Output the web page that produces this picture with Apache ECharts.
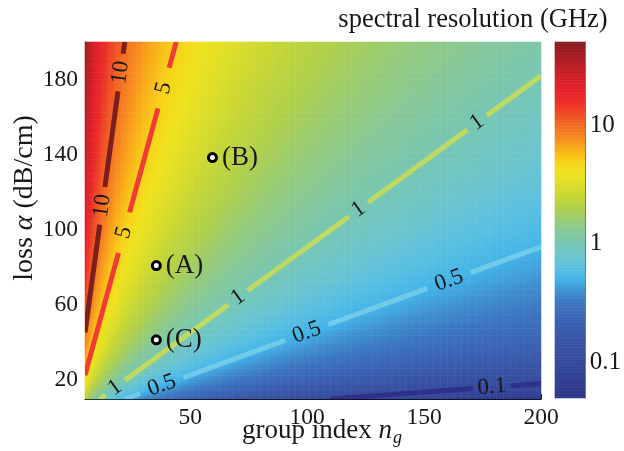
<!DOCTYPE html>
<html><head><meta charset="utf-8">
<script src="https://cdn.jsdelivr.net/npm/echarts@6/dist/echarts.min.js"></script>
<style>html,body{margin:0;padding:0;background:#fff}#c{width:624px;height:451px}</style>
</head><body><div id="c"></div>
<script>
// ---------- data ----------
const ngRange = [5, 200];                 // group index n_g
const lossRange = [10, 200];              // loss alpha (dB/cm)
const xTickValues = [50, 100, 150, 200];
const yTickValues = [20, 40, 60, 80, 100, 120, 140, 160, 180, 200];
const yLabelValues = [20, 60, 100, 140, 180];
const cbRange = [0.05, 50];               // colorbar range (GHz, log)
const cbTickValues = [0.1, 0.316, 1, 3.16, 10, 31.6];
const cbLabelValues = [0.1, 1, 10];
const resK = 1.1;
// sampling of the field
const ngStep = 1, lossStep = 1.25;
// contour lines: level, end points [n_g, loss], label centres [n_g, loss]
const contourLevels = [10, 5, 1, 0.5, 0.1];
const contourEnds = [
  [[5, 45.5], [22, 200]],
  [[5, 22.7], [44, 200]],
  [[11.2, 10], [200, 182]],
  [[22, 10], [200, 91]],
  [[110, 10], [200, 18.3]]
];
const contourLabelPts = [
  [[18.7, 184], [11.4, 113]],
  [[37, 176], [20.4, 99]],
  [[17, 17.5], [70, 64.8], [121.2, 112.2], [172.5, 157.4]],
  [[37, 20.1], [99.4, 46.7], [161, 71.7]],
  [[178.9, 17.5]]
];
const contourLabelText = ['10', '5', '1', '0.5', '0.1'];
// marked points
const pointNames = ['(A)', '(B)', '(C)'];
const pointNg = [35.5, 59.5, 35.5];
const pointLoss = [81, 138.5, 41.5];

// ---------- styles ----------
const SERIF = '"Liberation Serif", "Times New Roman", serif';
const TXT = '#1a1718';
const contourColors = ['#761a1d', '#ef3535', '#c8db58', '#78cfe9', '#2f2f88'];
const contourOpacity = [0.95, 0.95, 0.9, 0.85, 0.95];
const contourGapPx = [38, 42, 24, 46, 38];
const cmap = ['#2b3486','#2f3c90','#334598','#35499c','#374fa1','#3955a6','#3a5daf','#3b68b7','#3c75c0','#3f8fd0',
  '#43b4e8','#5ac0e0','#6cc5cc','#76c6b4','#86c89a','#98cb74','#b0d04a','#c6d636','#dcde28','#efe21d',
  '#f8d018','#f9ad18','#f6891f','#f26a22','#ee4b25','#ea2d29','#e5212a','#d21f28','#bb1e26','#a11c22','#871b1f'];

// ---------- build field ----------
const ngCenters = [], lossCenters = [];
for (let x = ngRange[0] + ngStep / 2; x < ngRange[1]; x += ngStep) ngCenters.push(x);
for (let y = lossRange[0] + lossStep / 2; y < lossRange[1]; y += lossStep) lossCenters.push(y);
const field = [];
ngCenters.forEach((ng, i) => lossCenters.forEach((a, j) => {
  field.push([i, j, Math.log10(resK * a / ng)]);
}));
const lmin = Math.log10(cbRange[0]), lmax = Math.log10(cbRange[1]);
const cbN = 240, cbCenters = [], cbData = [];
for (let j = 0; j < cbN; j++) {
  const v = lmin + (j + 0.5) * (lmax - lmin) / cbN;
  cbCenters.push(v.toFixed(4));
  cbData.push([0, j, v]);
}

function renderContour(params, api) {
  const k = api.value(2);
  const e = contourEnds[k];
  const p0 = api.coord(e[0]), p1 = api.coord(e[1]);
  const dx = p1[0] - p0[0], dy = p1[1] - p0[1];
  const L = Math.hypot(dx, dy), ux = dx / L, uy = dy / L;
  const rot = Math.atan2(-dy, dx);
  const g = contourGapPx[k];
  const ts = contourLabelPts[k].map(pt => {
    const q = api.coord(pt);
    return (q[0] - p0[0]) * ux + (q[1] - p0[1]) * uy;
  }).sort((a, b) => a - b);
  const children = [];
  let s = 0;
  const pushSeg = (a, b) => {
    if (b - a < 1) return;
    children.push({type: 'line', shape: {x1: p0[0] + ux * a, y1: p0[1] + uy * a, x2: p0[0] + ux * b, y2: p0[1] + uy * b},
      style: {stroke: contourColors[k], lineWidth: 5, lineCap: 'butt', opacity: contourOpacity[k]}});
  };
  ts.forEach(t => {
    pushSeg(s, Math.max(s, t - g / 2));
    s = Math.max(s, t + g / 2);
    children.push({type: 'text', x: p0[0] + ux * t, y: p0[1] + uy * t, rotation: rot,
      style: {text: contourLabelText[k], fontSize: 23, fontFamily: SERIF, fill: TXT, align: 'center', verticalAlign: 'middle'}});
  });
  pushSeg(s, L);
  const cs = params.coordSys;
  return {type: 'group', children: children,
    clipPath: {type: 'rect', shape: {x: cs.x, y: cs.y, width: cs.width, height: cs.height}}};
}

const axisLbl = {fontSize: 23.5, fontFamily: SERIF, color: TXT};
const chart = echarts.init(document.getElementById('c'), null, {renderer: 'canvas'});
chart.setOption({
  animation: false,
  grid: [
    {left: 85, top: 42, width: 456, height: 357},
    {left: 555, top: 42, width: 31, height: 356}
  ],
  xAxis: [
    {type: 'value', gridIndex: 0, min: ngRange[0], max: ngRange[1], position: 'bottom',
      axisLine: {show: true, lineStyle: {color: '#000', width: 1}},
      axisTick: {show: true, inside: true, length: 5, customValues: xTickValues, lineStyle: {color: '#000'}},
      axisLabel: Object.assign({customValues: xTickValues, margin: 7}, axisLbl),
      splitLine: {show: false}},
    {type: 'category', gridIndex: 0, data: ngCenters, show: false},
    {type: 'category', gridIndex: 1, data: ['c'], show: false}
  ],
  yAxis: [
    {type: 'value', gridIndex: 0, min: lossRange[0], max: lossRange[1], position: 'left',
      axisLine: {show: true, lineStyle: {color: '#000', width: 1}},
      axisTick: {show: true, inside: true, length: 5, customValues: yTickValues, lineStyle: {color: '#000'}},
      axisLabel: Object.assign({customValues: yLabelValues, margin: 7}, axisLbl),
      splitLine: {show: false}},
    {type: 'category', gridIndex: 0, data: lossCenters, show: false},
    {type: 'category', gridIndex: 1, data: cbCenters, show: false},
    {type: 'value', gridIndex: 1, min: lmin, max: lmax, position: 'left',
      axisLine: {show: true, lineStyle: {color: '#777', width: 1}},
      axisTick: {show: true, inside: true, length: 5, customValues: cbTickValues.map(Math.log10), lineStyle: {color: '#444'}},
      axisLabel: {show: false}, splitLine: {show: false}},
    {type: 'value', gridIndex: 1, min: lmin, max: lmax, position: 'right',
      axisLine: {show: true, lineStyle: {color: '#777', width: 1}},
      axisTick: {show: true, inside: true, length: 5, customValues: cbTickValues.map(Math.log10), lineStyle: {color: '#444'}},
      axisLabel: {customValues: cbLabelValues.map(Math.log10), margin: 5, fontSize: 25, fontFamily: SERIF, color: TXT,
        formatter: v => String(cbLabelValues.find(c => Math.abs(Math.log10(c) - v) < 1e-6))},
      splitLine: {show: false}}
  ],
  visualMap: {type: 'continuous', show: false, min: lmin, max: lmax, dimension: 2, seriesIndex: [0, 1],
    inRange: {color: cmap}},
  series: [
    {type: 'heatmap', xAxisIndex: 1, yAxisIndex: 1, data: field, progressive: 0, progressiveThreshold: 1e7,
      itemStyle: {borderWidth: 0}, emphasis: {disabled: true}},
    {type: 'heatmap', xAxisIndex: 2, yAxisIndex: 2, data: cbData, progressive: 0, progressiveThreshold: 1e7,
      itemStyle: {borderWidth: 0}, emphasis: {disabled: true}},
    {type: 'custom', xAxisIndex: 0, yAxisIndex: 0, renderItem: renderContour,
      data: contourLevels.map((l, i) => [contourEnds[i][0][0], contourEnds[i][0][1], i]), z: 5, silent: true},
    {type: 'scatter', xAxisIndex: 0, yAxisIndex: 0, z: 6, symbol: 'circle', symbolSize: 8,
      itemStyle: {color: '#fff', borderColor: '#000', borderWidth: 3, opacity: 1},
      label: {show: true, position: 'right', distance: 4, formatter: p => p.name, fontSize: 27, fontFamily: SERIF, color: TXT},
      data: pointNames.map((n, i) => ({name: n, value: [pointNg[i], pointLoss[i]]}))}
  ],
  graphic: [
    {type: 'text', x: 473, y: 20, style: {text: 'spectral resolution (GHz)', fontSize: 26.5, fontFamily: SERIF, fill: TXT, align: 'center', verticalAlign: 'middle'}},
    {type: 'text', x: 25, y: 198, rotation: Math.PI / 2,
      style: {text: '{n|loss }{i|α}{n| (dB/cm)}', align: 'center', verticalAlign: 'middle',
        rich: {n: {fontSize: 28, fontFamily: SERIF, fill: TXT}, i: {fontSize: 28, fontFamily: SERIF, fontStyle: 'italic', fill: TXT}}}},
    {type: 'text', x: 322, y: 431,
      style: {text: '{n|group index }{i|n}{s|g}', align: 'center', verticalAlign: 'middle',
        rich: {n: {fontSize: 27, fontFamily: SERIF, fill: TXT}, i: {fontSize: 27, fontFamily: SERIF, fontStyle: 'italic', fill: TXT},
          s: {fontSize: 18, fontFamily: SERIF, fontStyle: 'italic', fill: TXT, padding: [14, 0, 0, 1], verticalAlign: 'bottom'}}}}
  ]
});
</script></body></html>
